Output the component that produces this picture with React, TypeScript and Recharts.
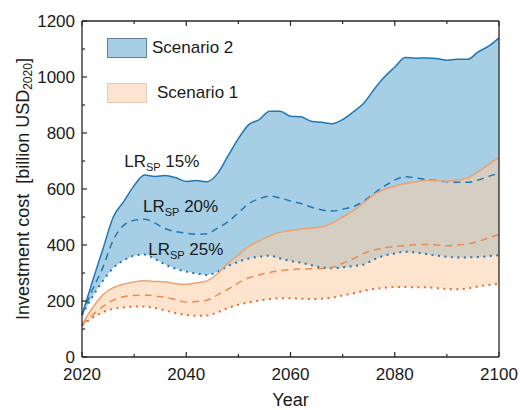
import React from 'react';
import { ComposedChart, Area, Line, XAxis, YAxis, ReferenceDot, Legend } from 'recharts';

const years = [
  2020, 2022, 2024, 2026, 2028, 2030, 2032, 2034, 2036, 2038, 2040, 2042, 2044, 2046,
  2048, 2050, 2052, 2054, 2056, 2058, 2060, 2062, 2064, 2066, 2068, 2070, 2072, 2074,
  2076, 2078, 2080, 2082, 2084, 2086, 2088, 2090, 2092, 2094, 2096, 2098, 2100,
];

// Scenario 2 (blue): LR_SP 15% / 20% / 25%
const s2High = [
  150, 270, 385, 500, 555, 612, 650, 645, 648, 640, 627, 630, 626, 655,
  718, 780, 830, 848, 878, 878, 860, 858, 842, 838, 833, 848, 875, 905,
  955, 1000, 1035, 1070, 1067, 1068, 1066, 1060, 1063, 1063, 1090, 1110, 1140,
];
const s2Mid = [
  150, 240, 320, 418, 470, 488, 492, 478, 458, 448, 442, 438, 440, 460,
  483, 515, 548, 565, 575, 568, 557, 548, 535, 525, 521, 528, 537, 556,
  584, 610, 632, 644, 640, 634, 630, 626, 624, 624, 632, 645, 656,
];
const s2Low = [
  150, 215, 272, 318, 345, 362, 366, 350, 330, 315, 305, 298, 293, 305,
  325, 340, 352, 358, 362, 352, 343, 337, 328, 319, 317, 320, 325, 330,
  348, 362, 370, 376, 373, 368, 362, 358, 355, 356, 357, 360, 364,
];

// Scenario 1 (orange)
const s1High = [
  115, 175, 222, 248, 260, 268, 272, 270, 268, 262, 260, 265, 272, 298,
  335, 364, 395, 415, 432, 445, 452, 457, 460, 465, 478, 500, 522, 550,
  580, 598, 610, 620, 626, 630, 630, 628, 632, 640, 662, 688, 713,
];
const s1Mid = [
  115, 150, 180, 203, 215, 220, 221, 218, 213, 205, 196, 198, 203, 222,
  242, 265, 283, 293, 302, 308, 312, 314, 315, 316, 320, 335, 350, 370,
  382, 390, 395, 398, 401, 402, 400, 397, 400, 404, 413, 425, 438,
];
const s1Low = [
  112, 140, 160, 172, 177, 180, 180, 175, 166, 157, 150, 147, 148, 160,
  175, 187, 195, 202, 207, 210, 210, 208, 207, 208, 212, 220, 227, 236,
  243, 247, 250, 250, 249, 249, 246, 243, 242, 245, 252, 257, 262,
];

const xTicks = [2020, 2030, 2040, 2050, 2060, 2070, 2080, 2090, 2100];
const yTicks = [0, 100, 200, 300, 400, 500, 600, 700, 800, 900, 1000, 1100, 1200];

const annotations = [
  { year: 2028.1, value: 679, rate: '15%' },
  { year: 2031.7, value: 519, rate: '20%' },
  { year: 2032.7, value: 364, rate: '25%' },
];

const scenarios = [
  { name: 'Scenario 2', fill: '#a6cee4', border: '#5f7f98', gap: 5 },
  { name: 'Scenario 1', fill: '#fde4d0', border: '#e2cbbb', gap: 10 },
];

const data = years.map((year, i) => ({
  year,
  s2High: s2High[i],
  s2Mid: s2Mid[i],
  s2Low: s2Low[i],
  s1High: s1High[i],
  s1Mid: s1Mid[i],
  s1Low: s1Low[i],
}));

const FONT = '"Liberation Sans", Arial, sans-serif';
const AXIS = '#262626';
const TEXT = '#1a1a1a';
const BLUE = '#1f77b4';

const BottomTick = ({ x, y, payload }: any) => {
  const major = payload.value % 20 === 0;
  return (
    <g>
      <line x1={x} y1={y} x2={x} y2={y - (major ? 5 : 3)} stroke={AXIS} strokeWidth={1.2} />
      {major && (
        <text x={x} y={y + 23} textAnchor="middle" fontSize={17} fill={TEXT} fontFamily={FONT}>
          {payload.value}
        </text>
      )}
    </g>
  );
};

const TopTick = ({ x, y, payload }: any) => {
  const major = payload.value % 20 === 0;
  return <line x1={x} y1={y} x2={x} y2={y + (major ? 5 : 3)} stroke={AXIS} strokeWidth={1.2} />;
};

const LeftTick = ({ x, y, payload }: any) => {
  const major = payload.value % 200 === 0;
  return (
    <g>
      <line x1={x} y1={y} x2={x + (major ? 5 : 3)} y2={y} stroke={AXIS} strokeWidth={1.2} />
      {major && (
        <text x={x - 7} y={y + 6} textAnchor="end" fontSize={17} fill={TEXT} fontFamily={FONT}>
          {payload.value}
        </text>
      )}
    </g>
  );
};

const RightTick = ({ x, y, payload }: any) => {
  const major = payload.value % 200 === 0;
  return <line x1={x} y1={y} x2={x - (major ? 5 : 3)} y2={y} stroke={AXIS} strokeWidth={1.2} />;
};

const YLabel = (props: any) => {
  const vb = props.viewBox;
  const cx = vb.x + 1;
  const cy = vb.y + vb.height / 2;
  return (
    <text
      x={cx}
      y={cy}
      transform={`rotate(-90, ${cx}, ${cy})`}
      textAnchor="middle"
      dominantBaseline="central"
      fontSize={18}
      fill={TEXT}
      fontFamily={FONT}
      style={{ whiteSpace: 'pre' }}
    >
      {'Investment cost  [billion USD'}
      <tspan fontSize={12} dy={5}>2020</tspan>
      <tspan dy={-5}>]</tspan>
    </text>
  );
};

const XLabel = (props: any) => {
  const vb = props.viewBox;
  return (
    <text x={vb.x + vb.width / 2} y={vb.y + 49} textAnchor="middle" fontSize={18} fill={TEXT} fontFamily={FONT}>
      Year
    </text>
  );
};

const rateLabel = (rate: string) => (props: any) => {
  const vb = props.viewBox;
  const x = vb.x + vb.width / 2;
  const y = vb.y + vb.height / 2;
  return (
    <text x={x} y={y} fontSize={17} fill={TEXT} fontFamily={FONT} style={{ whiteSpace: 'pre' }}>
      LR
      <tspan fontSize={11} dy={4}>SP</tspan>
      <tspan dy={-4}>{' ' + rate}</tspan>
    </text>
  );
};

const renderLegend = () => (
  <div style={{ fontFamily: FONT, fontSize: 17, color: TEXT }}>
    {scenarios.map((s, i) => (
      <div
        key={s.name}
        style={{ display: 'flex', alignItems: 'center', height: 20, marginBottom: i === 0 ? 25 : 0 }}
      >
        <div style={{ width: 38, height: 18, background: s.fill, border: `1px solid ${s.border}` }} />
        <span style={{ marginLeft: s.gap }}>{s.name}</span>
      </div>
    ))}
  </div>
);

export default function App() {
  return (
    <div style={{ position: 'absolute', left: 0, top: 0, width: 520, height: 410, background: '#fff' }}>
      <ComposedChart width={520} height={410} data={data} margin={{ top: 1, right: 1, bottom: 13, left: 22 }}>
        <XAxis
          dataKey="year"
          type="number"
          domain={[2020, 2100]}
          ticks={xTicks}
          interval={0}
          tickSize={0}
          tickMargin={0}
          tickLine={false}
          tick={<BottomTick />}
          height={40}
          axisLine={{ stroke: AXIS, strokeWidth: 1.3 }}
          label={XLabel}
        />
        <XAxis
          xAxisId="top"
          orientation="top"
          dataKey="year"
          type="number"
          domain={[2020, 2100]}
          ticks={xTicks}
          interval={0}
          tickSize={0}
          tickMargin={0}
          tickLine={false}
          tick={<TopTick />}
          height={20}
          axisLine={{ stroke: AXIS, strokeWidth: 1.3 }}
        />
        <YAxis
          type="number"
          domain={[0, 1200]}
          ticks={yTicks}
          interval={0}
          tickSize={0}
          tickMargin={0}
          tickLine={false}
          tick={<LeftTick />}
          width={60}
          axisLine={{ stroke: AXIS, strokeWidth: 1.3 }}
          label={YLabel}
        />
        <YAxis
          yAxisId="right"
          orientation="right"
          type="number"
          domain={[0, 1200]}
          ticks={yTicks}
          interval={0}
          tickSize={0}
          tickMargin={0}
          tickLine={false}
          tick={<RightTick />}
          width={20}
          axisLine={{ stroke: AXIS, strokeWidth: 1.3 }}
        />
        <Legend
          layout="horizontal"
          verticalAlign="middle"
          align="center"
          content={renderLegend}
          wrapperStyle={{ left: 107, top: 38, width: 'auto', height: 'auto' }}
        />

        <Area
          name="Scenario 2"
          type="monotone"
          dataKey={(d: any) => [d.s2Low, d.s2High]}
          fill="#a6cee4"
          fillOpacity={1}
          stroke="none"
          isAnimationActive={false}
        />
        <Line type="monotone" dataKey="s2High" stroke={BLUE} strokeWidth={1.5} dot={false} legendType="none" isAnimationActive={false} />
        <Line type="monotone" dataKey="s2Mid" stroke={BLUE} strokeWidth={1.5} strokeDasharray="7 5" dot={false} legendType="none" isAnimationActive={false} />
        <Line type="monotone" dataKey="s2Low" stroke={BLUE} strokeWidth={2} strokeDasharray="2 4.5" dot={false} legendType="none" isAnimationActive={false} />

        <Area
          name="Scenario 1"
          type="monotone"
          dataKey={(d: any) => [d.s1Low, d.s1High]}
          fill="#fbcea6"
          fillOpacity={0.55}
          stroke="none"
          isAnimationActive={false}
        />
        <Line type="monotone" dataKey="s1High" stroke="#f0a06e" strokeWidth={1.5} dot={false} legendType="none" isAnimationActive={false} />
        <Line type="monotone" dataKey="s1Mid" stroke="#f08a4b" strokeWidth={1.5} strokeDasharray="7 5" dot={false} legendType="none" isAnimationActive={false} />
        <Line type="monotone" dataKey="s1Low" stroke="#ec6a2c" strokeWidth={2} strokeDasharray="2 4.5" dot={false} legendType="none" isAnimationActive={false} />

        {annotations.map((a) => (
          <ReferenceDot
            key={a.rate}
            x={a.year}
            y={a.value}
            r={1}
            fill="none"
            stroke="none"
            label={rateLabel(a.rate)}
          />
        ))}
      </ComposedChart>
    </div>
  );
}
